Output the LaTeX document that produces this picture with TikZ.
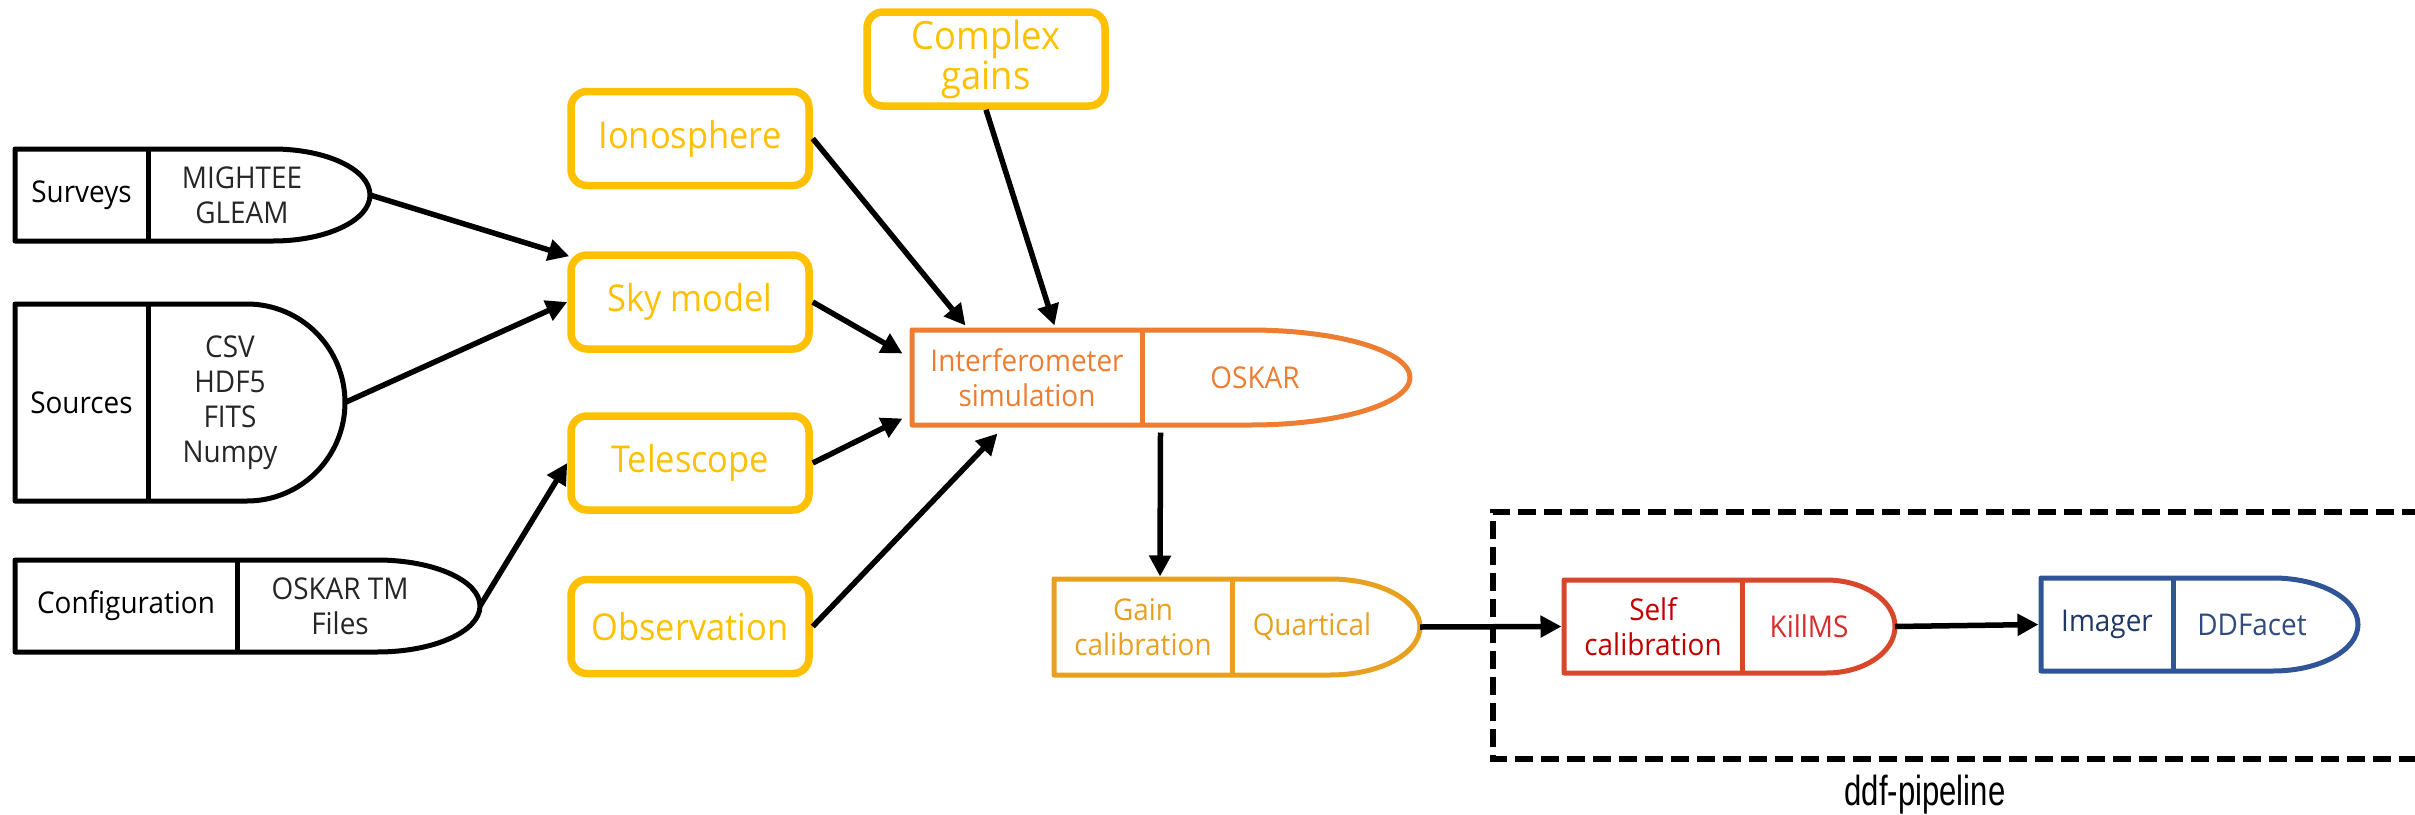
\documentclass[tikz,border=0pt]{standalone}
\usepackage{fontspec}
\setmainfont[FakeStretch=0.93]{Open Sans}
\newfontfamily\arialfont[FakeStretch=0.74]{Liberation Sans}
\usetikzlibrary{arrows.meta,calc}
\definecolor{yel}{HTML}{FFC000}
\definecolor{ora}{HTML}{ED7D31}
\definecolor{gld}{HTML}{E8A020}
\definecolor{redl}{HTML}{D9472B}
\definecolor{redt}{HTML}{C00000}
\definecolor{redk}{HTML}{D32F2F}
\definecolor{blul}{HTML}{2F5597}
\definecolor{blut}{HTML}{1F3864}
\definecolor{blud}{HTML}{2F4B80}
\definecolor{gry}{HTML}{262626}
% #1 style, #2 left x, #3 divider x, #4 curve start x, #5 tip x, #6 top y, #7 bottom y
\newcommand{\bulletshape}[7]{%
  \pgfmathsetmacro{\bsy}{(#6+#7)/2}%
  \pgfmathsetmacro{\bsa}{#4+0.5523*(#5-#4)}%
  \pgfmathsetmacro{\bsb}{0.5523*(#7-#6)/2}%
  \draw[#1] (#2,#6) -- (#4,#6) .. controls (\bsa,#6) and (#5,\bsy-\bsb) .. (#5,\bsy) .. controls (#5,\bsy+\bsb) and (\bsa,#7) .. (#4,#7) -- (#2,#7) -- cycle;
  \draw[#1] (#3,#6) -- (#3,#7);
}
\begin{document}
\begin{tikzpicture}[x=1pt,y=-1pt,
  txt/.style={font=\fontsize{30}{35}\selectfont, align=center, inner sep=0pt},
  ytxt/.style={font=\fontsize{37}{40}\selectfont, align=center, inner sep=0pt},
  ybox/.style={ytxt, draw=yel, text=yel, line width=7.5pt, rounded corners=16pt,
               minimum width=238pt, minimum height=94pt},
  part/.style={txt, outer sep=2.5pt},
  blk/.style={draw=black, line width=5pt, line join=round},
  orl/.style={draw=ora, line width=5pt, line join=round},
  gll/.style={draw=gld, line width=5pt, line join=round},
  rdl/.style={draw=redl, line width=5pt, line join=round},
  bll/.style={draw=blul, line width=5pt, line join=round},
  arr/.style={line width=5.5pt, -{Triangle[length=21pt,width=21pt]}},
  grp/.style={line width=6pt, dash pattern=on 18pt off 8pt}
]
\useasboundingbox (0,0) rectangle (2415,814);

% ---------- left column ----------
\bulletshape{blk}{15}{148}{273}{370}{149}{241}
\node[part, minimum width=133pt, minimum height=92pt] (surveys) at (81.5,195) {Surveys};
\node[txt, text=gry] (surveysR) at (242,195) {MIGHTEE\\GLEAM};
\coordinate (surveys-tip) at (370,195);

\bulletshape{blk}{15}{148}{247}{345}{304}{501}
\node[part, minimum width=133pt, minimum height=197pt] (sources) at (81.5,402.5) {Sources};
\node[txt, text=gry] (sourcesR) at (230,402.5) {CSV\\HDF5\\FITS\\Numpy};
\coordinate (sources-tip) at (345,402.5);

\bulletshape{blk}{15}{237}{377}{480}{560}{652}
\node[part, minimum width=222pt, minimum height=92pt] (config) at (126,606) {Configuration};
\node[txt, text=gry] (configR) at (340,606) {OSKAR TM\\Files};
\coordinate (config-tip) at (480,606);

% ---------- yellow inputs ----------
\node[ybox] (ion) at (690,138.5) {Ionosphere};
\node[ybox] (sky) at (690,302) {Sky model};
\node[ybox] (tel) at (690,463) {Telescope};
\node[ybox] (obs) at (690,626.5) {Observation};
\node[ybox, font=\fontsize{39}{40}\selectfont] (cg) at (986,59) {Complex\\gains};

% ---------- interferometer simulation ----------
\bulletshape{orl}{912}{1142}{1250}{1410}{330}{425}
\node[part, text=ora, minimum width=230pt, minimum height=95pt] (interf) at (1027,377.5) {Interferometer\\simulation};
\node[txt, text=ora] (oskar) at (1255,377.5) {OSKAR};

% ---------- gain calibration ----------
\bulletshape{gll}{1054}{1232}{1330}{1420}{579}{675}
\node[part, text=gld, minimum width=178pt, minimum height=96pt] (gain) at (1143,627) {Gain\\calibration};
\node[txt, text=gld] (quart) at (1312,627) {Quartical};
\coordinate (quart-tip) at (1420,627);

% ---------- ddf-pipeline group ----------
\draw[grp] (2420,512) -- (1493,512) -- (1493,759) -- (2420,759);
\node[font=\arialfont\fontsize{42}{46}\selectfont, inner sep=0pt] (ddf) at (1925,795) {ddf-pipeline};

\bulletshape{rdl}{1564}{1742}{1826}{1895}{580}{673}
\node[part, text=redt, minimum width=178pt, minimum height=93pt] (self) at (1653,626.5) {Self\\calibration};
\node[txt, text=redk] (killms) at (1809,626.5) {KillMS};
\coordinate (kill-tip) at (1895,626.5);

\bulletshape{bll}{2041}{2173}{2273}{2358}{578}{671}
\node[part, text=blut, minimum width=132pt, minimum height=93pt] (imager) at (2107,624.5) {Imager};
\node[txt, text=blud] (ddfacet) at (2252,624.5) {DDFacet};

% ---------- connectors ----------
\draw[arr] (surveys-tip) -- ($(sky.north west)+(2,5)$);
\draw[arr] (sources-tip) -- (sky.west);
\draw[arr] (config-tip) -- (tel.west);
\draw[arr] (ion.east) -- ($(interf.north west)+(56,-2)$);
\draw[arr] (cg.south) -- ($(interf.north west)+(145,-2)$);
\draw[arr] (sky.east) -- ($(interf.north west)+(-7,26)$);
\draw[arr] (tel.east) -- ($(interf.south west)+(-7,-9)$);
\draw[arr] (obs.east) -- ($(interf.south west)+(88,6)$);
\draw[arr] ($(interf.south east)+(16,5)$) -- ($(gain.north)+(17,0)$);
\draw[arr] (quart-tip) -- (self.west);
\draw[arr] (kill-tip) -- (imager.west);
\end{tikzpicture}
\end{document}
